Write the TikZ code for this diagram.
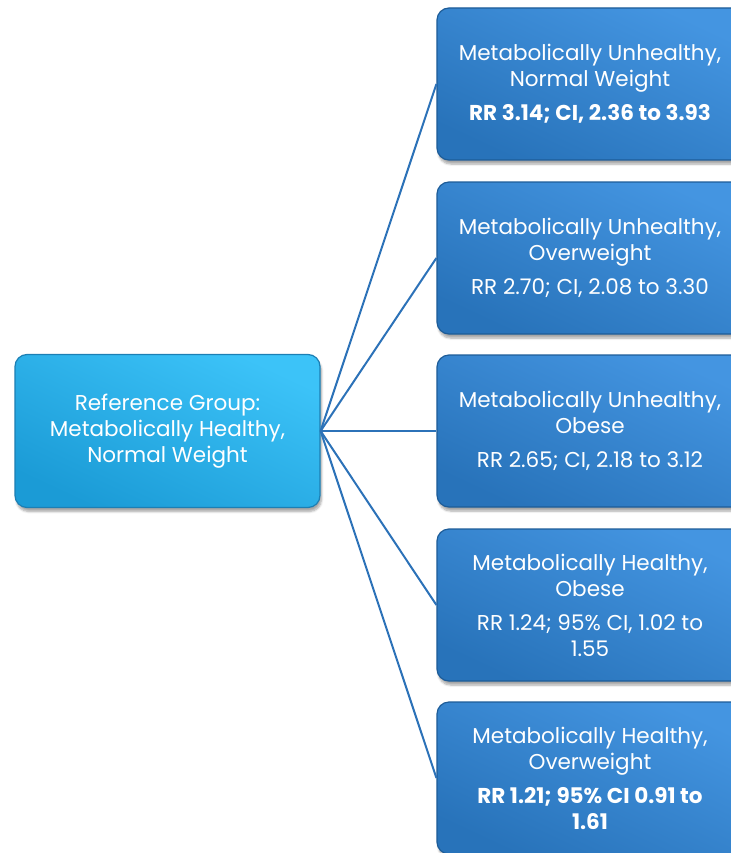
\documentclass[tikz,border=0pt]{standalone}
\usepackage{fontspec}
\setmainfont{Poppins}
\usetikzlibrary{shadows.blur}
\definecolor{refTop}{HTML}{3CC3F8}
\definecolor{refBot}{HTML}{1B9BD6}
\definecolor{refEdge}{HTML}{1C7FB4}
\definecolor{grpTop}{HTML}{4495E1}
\definecolor{grpBot}{HTML}{2873BA}
\definecolor{grpEdge}{HTML}{1D5C98}
\definecolor{link}{HTML}{2C72B8}
\tikzset{
  box/.style={draw, line width=1.2pt, rounded corners=12pt, align=center, text=white,
    font=\fontsize{21.5}{26}\selectfont, inner sep=4pt,
    blur shadow={shadow xshift=1.5pt, shadow yshift=-4pt, shadow blur steps=6, shadow opacity=35}},
  rbox/.style={box, draw=refEdge, top color=refTop, bottom color=refBot, shading angle=-25,
    minimum width=305pt, minimum height=153pt},
  gbox/.style={box, draw=grpEdge, top color=grpTop, bottom color=grpBot, shading angle=-25,
    minimum width=306pt, minimum height=152pt},
  arr/.style={draw=link, line width=2pt},
}

\begin{document}
\begin{tikzpicture}[x=1pt, y=-1pt]
\useasboundingbox (0,0) rectangle (730,853);
\node[rbox] (ref) at (167.5,431) {Reference Group:\\Metabolically Healthy,\\Normal Weight};
\node[gbox] (mun) at (590,84) {Metabolically Unhealthy,\\Normal Weight\\[8pt]\textbf{RR 3.14; CI, 2.36 to 3.93}};
\node[gbox] (muw) at (590,258) {Metabolically Unhealthy,\\Overweight\\[8pt]RR 2.70; CI, 2.08 to 3.30};
\node[gbox] (muo) at (590,431) {Metabolically Unhealthy,\\Obese\\[8pt]RR 2.65; CI, 2.18 to 3.12};
\node[gbox] (mho) at (590,605) {Metabolically Healthy,\\Obese\\[8pt]RR 1.24; 95\% CI, 1.02 to\\1.55};
\node[gbox] (mhw) at (590,778) {Metabolically Healthy,\\Overweight\\[8pt]\textbf{RR 1.21; 95\% CI 0.91 to}\\\textbf{1.61}};
\foreach \g in {mun,muw,muo,mho,mhw}
  \draw[arr] (ref.east) -- (\g.west);
\end{tikzpicture}
\end{document}
